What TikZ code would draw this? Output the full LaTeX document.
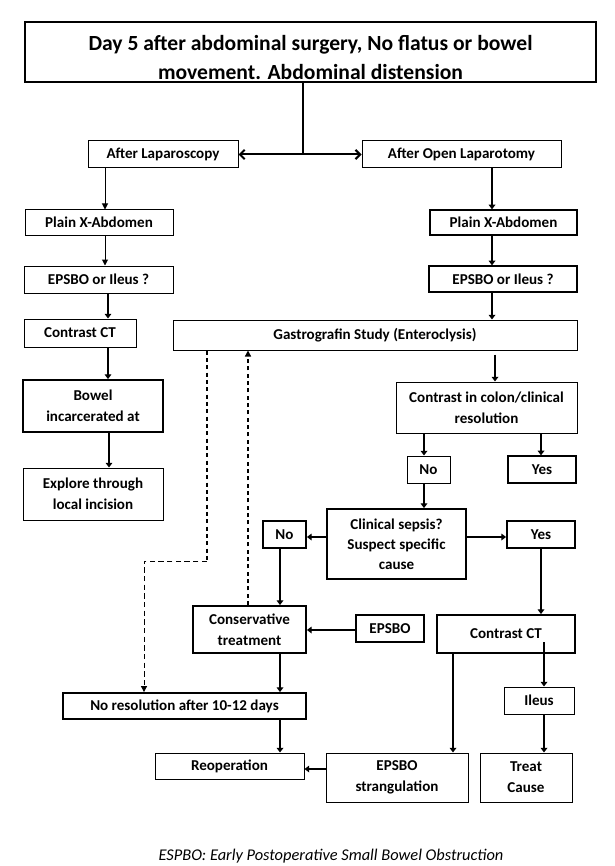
\documentclass[tikz,border=0pt]{standalone}
\usepackage{fontspec}
\setmainfont{Carlito}
\usetikzlibrary{arrows.meta}
\begin{document}
\begin{tikzpicture}[x=0.75pt,y=-0.75pt,
  box/.style={draw, line width=0.75pt, inner sep=0pt, align=center,
    font=\fontsize{11.3}{15.75}\selectfont\bfseries},
  tbox/.style={box, line width=1.4pt},
  area/.style n args={4}{at={({(#1+#3)/2},{(#2+#4)/2})},
    minimum width={(#3-#1)*0.75pt}, minimum height={(#4-#2)*0.75pt}},
  arr/.style={line width=0.75pt, -{Triangle[length=4.5pt,width=4.5pt]}},
  tarr/.style={line width=1.5pt, -{Triangle[length=3.5pt,width=5pt]}},
  dbl/.style={line width=1.5pt, {Straight Barb[length=3.5pt,width=7pt]}-{Straight Barb[length=3.5pt,width=7pt]}},
  dsh/.style={line width=0.75pt, dash pattern=on 4pt off 2.5pt},
  dsharr/.style={dsh, -{Triangle[length=4.5pt,width=4.5pt]}}
]
\useasboundingbox (0,0) rectangle (614,866);
% nodes
\node[box, line width=1.1pt, area={25}{22}{596}{82}, font=\fontsize{16.2}{21.75}\selectfont\bfseries] (title)
  {\rule{0pt}{19pt}Day 5 after abdominal surgery, No flatus or bowel\\movement. Abdominal distension};
\node[box, area={88}{141}{238}{168}] (lapA) {After Laparoscopy};
\node[box, area={362}{141}{561}{168}] (openL) {After Open Laparotomy};
\node[box, area={25}{210}{173}{235}] (plainL) {Plain X-Abdomen};
\node[box, line width=1pt, area={430}{210}{577}{235}] (plainR) {Plain X-Abdomen};
\node[box, area={24}{266}{173}{293}] (epsL) {EPSBO or Ileus ?};
\node[box, line width=1pt, area={429}{266}{577}{292}] (epsR) {EPSBO or Ileus ?};
\node[box, area={24}{319}{136}{347}] (ctL) {Contrast CT};
\node[box, area={173}{320}{577}{350}] (gastro) {Gastrografin Study (Enteroclysis)};
\node[tbox, area={23}{380}{163}{432}] (bowel) {Bowel\\incarcerated at};
\node[box, area={23}{468}{163}{520}] (explore) {Explore through\\local incision};
\node[box, area={396}{382}{577}{433}] (colon) {Contrast in colon/clinical\\resolution};
\node[box, area={407}{456}{450}{483}] (noR) {No};
\node[box, line width=1pt, area={508}{456}{576}{483}] (yesR) {Yes};
\node[tbox, area={327}{509}{466}{579}, font=\fontsize{11.3}{15}\selectfont\bfseries] (sepsis) {Clinical sepsis?\\Suspect specific\\cause};
\node[tbox, area={263}{521}{306}{548}] (noL) {No};
\node[tbox, area={507}{521}{575}{548}] (yesL) {Yes};
\node[tbox, area={193}{606}{306}{653}] (cons) {Conservative\\treatment};
\node[box, line width=1pt, area={356}{615}{424}{642}] (epsbo) {EPSBO};
\node[tbox, area={437}{615}{575}{653}] (ctR) {Contrast CT};
\node[box, area={504}{687}{574}{714}] (ileus) {Ileus};
\node[tbox, area={63}{693}{306}{719}] (nores) {No resolution after 10-12 days};
\node[box, area={155}{753}{304}{779}] (reop) {Reoperation};
\node[box, area={326}{753}{468}{802}] (strang) {EPSBO\\strangulation};
\node[box, area={480}{753}{572}{802}] (treat) {Treat\\Cause};
\node[font=\fontsize{12.3}{14}\selectfont\itshape] (foot) at (331,856) {ESPBO: Early Postoperative Small Bowel Obstruction};
% connectors
\coordinate (j) at (303,0 |- lapA.east);
\draw[line width=1.5pt] (title.south -| j) -- (j);
\draw[dbl] (lapA.east) -- (openL.west);
\draw[arr] (105,0 |- lapA.south) -- (105,0 |- plainL.north);
\draw[arr] (105,0 |- plainL.south) -- (105,0 |- epsL.north);
\draw[tarr] (108,0 |- epsL.south) -- (108,0 |- ctL.north);
\draw[tarr] (108,0 |- ctL.south) -- (108,0 |- bowel.north);
\draw[tarr] (109,0 |- bowel.south) -- (109,0 |- explore.north);
\draw[tarr] (492,0 |- openL.south) -- (492,0 |- plainR.north);
\draw[tarr] (492,0 |- plainR.south) -- (492,0 |- epsR.north);
\draw[tarr] (492,0 |- epsR.south) -- (492,0 |- gastro.north);
\draw[tarr] ([yshift=-3pt]495,0 |- gastro.south) -- (495,0 |- colon.north);
\draw[tarr] (424,0 |- colon.south) -- (424,0 |- noR.north);
\draw[tarr] (541,0 |- colon.south) -- (541,0 |- yesR.north);
\draw[tarr] (424,0 |- noR.south) -- (424,0 |- sepsis.north);
\draw[tarr] (sepsis.west |- 0,537) -- (noL.east |- 0,537);
\draw[tarr] (sepsis.east |- 0,537) -- (yesL.west |- 0,537);
\draw[tarr] (280,0 |- noL.south) -- (280,0 |- cons.north);
\draw[tarr] (541,0 |- yesL.south) -- (541,0 |- ctR.north);
\draw[tarr] (epsbo.west |- 0,630) -- (cons.east |- 0,630);
\draw[tarr] (280,0 |- cons.south) -- (280,0 |- nores.north);
\draw[tarr] (280,0 |- nores.south) -- (280,0 |- reop.north);
\draw[tarr] (453,0 |- ctR.south) -- (453,0 |- strang.north);
\draw[tarr] (544,642) -- (544,0 |- ileus.north);
\draw[tarr] (544,0 |- ileus.south) -- (544,0 |- treat.north);
\draw[tarr] (strang.west |- 0,769) -- (reop.east |- 0,769);
\coordinate (d1) at (207,561);
\coordinate (d2) at (144,561);
\draw[dsh, line width=1pt, dash pattern=on 3pt off 2.5pt] (207,0 |- gastro.south) -- (d1);
\draw[dsharr] (d1) -- (d2) -- (144,0 |- nores.north);
\draw[dsharr, line width=1pt, dash pattern=on 3pt off 2.5pt] (248,0 |- cons.north) -- (248,0 |- gastro.south);
\end{tikzpicture}
\end{document}
